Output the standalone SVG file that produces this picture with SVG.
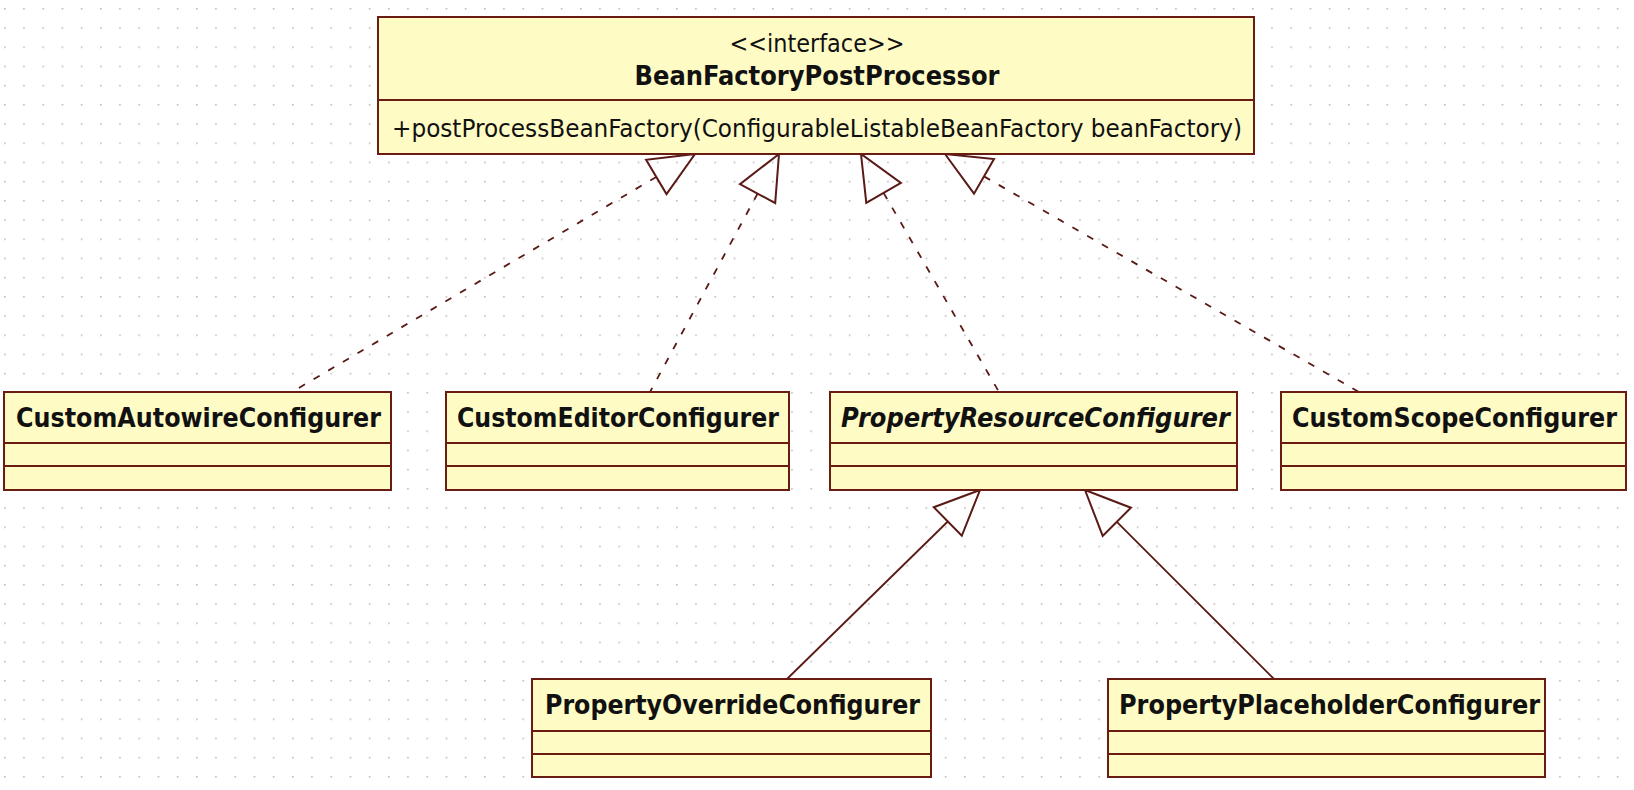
<svg xmlns="http://www.w3.org/2000/svg" width="1634" height="790" viewBox="0 0 1634 790">
<defs>
<pattern id="grid" patternUnits="userSpaceOnUse" x="4" y="8" width="19.2" height="19.2">
<rect x="0" y="0" width="1.6" height="1.6" fill="#bdbdbd"/>
</pattern>
<style>
.box{fill:#FFFBC4;stroke:#6B1C12;stroke-width:2}
.sep{stroke:#6B1C12;stroke-width:2}
.t{font-family:"DejaVu Sans Condensed","DejaVu Sans",sans-serif;font-stretch:condensed;fill:#111;font-size:25px}
.b{font-weight:bold;font-size:26px}
.i{font-style:italic}
.real{stroke:#5A1A16;stroke-width:1.8;fill:none;stroke-dasharray:7 10}
.gen{stroke:#5A1A16;stroke-width:1.8;fill:none}
.head{fill:none;stroke:#5A1A16;stroke-width:2;stroke-linejoin:miter}
</style>
</defs>
<rect width="1634" height="790" fill="#ffffff"/>
<rect width="1634" height="790" fill="url(#grid)"/>

<g id="connectors">
<line class="real" x1="656.3" y1="176.9" x2="292" y2="392"/>
<polygon class="head" points="695,154 646.1,159.7 666.5,194.1"/>
<line class="real" x1="757.6" y1="193.6" x2="650" y2="392"/>
<polygon class="head" points="779,154 740.0,184.1 775.2,203.1"/>
<line class="real" x1="883.6" y1="192.9" x2="999" y2="392"/>
<polygon class="head" points="861,154 866.3,202.9 900.9,182.9"/>
<line class="real" x1="984.0" y1="176.4" x2="1359" y2="392"/>
<polygon class="head" points="945,154 974.0,193.7 994.0,159.1"/>
<line class="gen" x1="947.8" y1="521.5" x2="787" y2="679"/>
<polygon class="head" points="980,490 933.8,507.2 961.8,535.8"/>
<line class="gen" x1="1116.8" y1="521.8" x2="1274" y2="679"/>
<polygon class="head" points="1085,490 1102.7,535.9 1130.9,507.7"/>
</g>

<g id="BeanFactoryPostProcessor">
<rect class="box" x="378" y="17" width="876" height="137"/>
<line class="sep" x1="378" y1="100" x2="1254" y2="100"/>
<text class="t" x="817" y="52" text-anchor="middle" font-size="23" textLength="175" lengthAdjust="spacingAndGlyphs">&lt;&lt;interface&gt;&gt;</text>
<text class="t b" x="817" y="85" text-anchor="middle" textLength="365" lengthAdjust="spacingAndGlyphs">BeanFactoryPostProcessor</text>
<text class="t" x="392" y="137" textLength="850" lengthAdjust="spacingAndGlyphs">+postProcessBeanFactory(ConfigurableListableBeanFactory beanFactory)</text>
</g>

<g id="CustomAutowireConfigurer">
<rect class="box" x="4" y="392" width="387" height="98"/>
<line class="sep" x1="4" y1="443" x2="391" y2="443"/>
<line class="sep" x1="4" y1="466" x2="391" y2="466"/>
<text class="t b" x="16" y="427" textLength="365" lengthAdjust="spacingAndGlyphs">CustomAutowireConfigurer</text>
</g>

<g id="CustomEditorConfigurer">
<rect class="box" x="446" y="392" width="343" height="98"/>
<line class="sep" x1="446" y1="443" x2="789" y2="443"/>
<line class="sep" x1="446" y1="466" x2="789" y2="466"/>
<text class="t b" x="457" y="427" textLength="322" lengthAdjust="spacingAndGlyphs">CustomEditorConfigurer</text>
</g>

<g id="PropertyResourceConfigurer">
<rect class="box" x="830" y="392" width="407" height="98"/>
<line class="sep" x1="830" y1="443" x2="1237" y2="443"/>
<line class="sep" x1="830" y1="466" x2="1237" y2="466"/>
<text class="t b i" x="841" y="427" textLength="389" lengthAdjust="spacingAndGlyphs">PropertyResourceConfigurer</text>
</g>

<g id="CustomScopeConfigurer">
<rect class="box" x="1281" y="392" width="345" height="98"/>
<line class="sep" x1="1281" y1="443" x2="1626" y2="443"/>
<line class="sep" x1="1281" y1="466" x2="1626" y2="466"/>
<text class="t b" x="1292" y="427" textLength="325" lengthAdjust="spacingAndGlyphs">CustomScopeConfigurer</text>
</g>

<g id="PropertyOverrideConfigurer">
<rect class="box" x="532" y="679" width="399" height="98"/>
<line class="sep" x1="532" y1="731" x2="931" y2="731"/>
<line class="sep" x1="532" y1="754" x2="931" y2="754"/>
<text class="t b" x="545" y="714" textLength="375" lengthAdjust="spacingAndGlyphs">PropertyOverrideConfigurer</text>
</g>

<g id="PropertyPlaceholderConfigurer">
<rect class="box" x="1108" y="679" width="437" height="98"/>
<line class="sep" x1="1108" y1="731" x2="1545" y2="731"/>
<line class="sep" x1="1108" y1="754" x2="1545" y2="754"/>
<text class="t b" x="1119" y="714" textLength="421" lengthAdjust="spacingAndGlyphs">PropertyPlaceholderConfigurer</text>
</g>
</svg>
